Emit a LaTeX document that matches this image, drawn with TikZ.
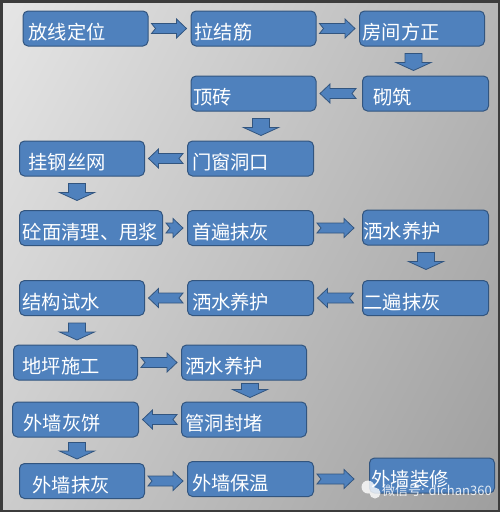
\documentclass[tikz,border=0pt]{standalone}
\usepackage{fontspec}
\newfontfamily\cjk{Noto Sans CJK SC}
\usetikzlibrary{calc,shadings}

\definecolor{boxfill}{HTML}{4F81BD}
\definecolor{boxline}{HTML}{32557F}
\definecolor{bgul}{HTML}{E6E6E6}
\definecolor{bgur}{HTML}{B6B6B6}
\definecolor{bgll}{HTML}{CCCCCC}
\definecolor{bglr}{HTML}{9E9E9E}
\definecolor{frame}{HTML}{3C3C3C}

% notched arrow pointing right, from #1 to #2
\newcommand{\rarrow}[2]{%
  \draw[blockarrow] let \p1=(#1.east), \p2=(#2.west),
      \p3=({min(\x1+40pt,\x2-4pt)},\y1) in
    (\x1+3pt,\y1-5pt) -- (\x3-10pt,\y1-5pt) -- (\x3-10pt,\y1-9.5pt) -- (\p3)
    -- (\x3-10pt,\y1+9.5pt) -- (\x3-10pt,\y1+5pt) -- (\x1+3pt,\y1+5pt)
    -- (\x1+7pt,\y1) -- cycle;}
% notched arrow pointing left, from #1 to #2
\newcommand{\larrow}[2]{%
  \draw[blockarrow] let \p1=(#1.west), \p2=(#2.east),
      \p3=({\x2+3.5pt},\y1), \p4=({min(\x3+36pt,\x1-4pt)},\y1) in
    (\x4,\y1-5pt) -- (\x3+10pt,\y1-5pt) -- (\x3+10pt,\y1-9.5pt) -- (\p3)
    -- (\x3+10pt,\y1+9.5pt) -- (\x3+10pt,\y1+5pt) -- (\x4,\y1+5pt)
    -- (\x4-4pt,\y1) -- cycle;}
% arrow pointing down, from #2 to #3, at x = #4
\newcommand{\dnarrow}[4][7]{%
  \draw[blockarrow] let \p1=(#2.south), \p2=(#3.north), \p3=(#4,0),
      \p4=(\x3,{\y1-#1pt}), \p5=(\x3,{max(\y4-17pt,\y2+4pt)}) in
    (\x4-8.5pt,\y4) -- (\x4+8.5pt,\y4) -- (\x4+8.5pt,\y5+8pt)
    -- (\x4+17.5pt,\y5+8pt) -- (\p5) -- (\x4-17.5pt,\y5+8pt)
    -- (\x4-8.5pt,\y5+8pt) -- cycle;}

\begin{document}
\begin{tikzpicture}[x=1pt, y=-1pt,
    procbox/.style={draw=boxline, fill=boxfill, line width=1pt, rounded corners=5pt,
      text=white, font=\cjk\fontsize{19.3}{22}\selectfont, anchor=west,
      inner xsep=0pt, inner ysep=0pt, minimum height=35pt, text width=125pt,
      align=left, text height=24pt, text depth=1.4pt},
    blockarrow/.style={draw=boxline, fill=boxfill, line width=0.8pt, line join=miter}]
    \useasboundingbox (0,0) rectangle (500,512);

    % Background
    \shade[upper left=bgul, upper right=bgur, lower left=bgll, lower right=bglr]
      (0,0) rectangle (500,512);
    \draw[line width=2.5pt, draw=frame] (1.25,1.25) rectangle (498.75,510.75);

    % Row 1
    \node[procbox] (fangxian) at (22.5,28.5) {\hspace*{5.5pt}放线定位};
    \node[procbox] (lajie) at (190.5,28.5) {\hspace*{3.5pt}拉结筋};
    \node[procbox] (fangjian) at (359,28.5) {\hspace*{3pt}房间方正};

    % Row 2
    \node[procbox, text width=126pt] (qizhu) at (362,93.5) {\hspace*{11pt}砌筑};
    \node[procbox] (dingzhuan) at (190.5,93.5) {\hspace*{2.5pt}顶砖};

    % Row 3
    \node[procbox, text width=126pt] (menchuang) at (187,158.5) {\hspace*{4.5pt}门窗洞口};
    \node[procbox] (guagang) at (19,158.5) {\hspace*{9pt}挂钢丝网};

    % Row 4
    \node[procbox, text width=143pt] (tongmian) at (19,228) {\hspace*{3.5pt}砼面清理、甩浆};
    \node[procbox, text width=126pt] (shoubian) at (187,228) {\hspace*{4.5pt}首遍抹灰};
    \node[procbox, text width=126pt] (sashuiA) at (362,227.5) {\hspace*{1pt}洒水养护};

    % Row 5
    \node[procbox, text width=126pt] (erbian) at (362,298) {\hspace*{1pt}二遍抹灰};
    \node[procbox, text width=126pt] (sashuiB) at (187,298) {\hspace*{4.5pt}洒水养护};
    \node[procbox] (jiegou) at (19,298) {\hspace*{3pt}结构试水};

    % Row 6
    \node[procbox, text width=124pt] (diping) at (13,362.5) {\hspace*{9pt}地坪施工};
    \node[procbox] (sashuiC) at (181,362.5) {\hspace*{4pt}洒水养护};

    % Row 7
    \node[procbox] (guandong) at (181,419.5) {\hspace*{4pt}管洞封堵};
    \node[procbox, text width=126pt] (huibing) at (12,419.5) {\hspace*{11pt}外墙灰饼};

    % Row 8
    \node[procbox] (mohui) at (19,481) {\hspace*{13pt}外墙抹灰};
    \node[procbox, text width=126pt] (baowen) at (187,479) {\hspace*{4.5pt}外墙保温};
    \node[procbox] (zhuangxiu) at (369,475.5) {\hspace*{2pt}外墙装修};

    % Flow arrows
    \rarrow{fangxian}{lajie}
    \rarrow{lajie}{fangjian}
    \dnarrow{fangjian}{qizhu}{413.5}
    \larrow{qizhu}{dingzhuan}
    \dnarrow{dingzhuan}{menchuang}{261}
    \larrow{menchuang}{guagang}
    \dnarrow{guagang}{tongmian}{77}
    \rarrow{tongmian}{shoubian}
    \rarrow{shoubian}{sashuiA}
    \dnarrow{sashuiA}{erbian}{426}
    \larrow{erbian}{sashuiB}
    \larrow{sashuiB}{jiegou}
    \dnarrow{jiegou}{diping}{77}
    \rarrow{diping}{sashuiC}
    \dnarrow[3]{sashuiC}{guandong}{250}
    \larrow{guandong}{huibing}
    \dnarrow[5]{huibing}{mohui}{77}
    \rarrow{mohui}{baowen}
    \rarrow{baowen}{zhuangxiu}

    % Watermark
    \fill[white, opacity=0.8] (368,487) circle (6.5) (375,493) circle (5.5);
    \node[anchor=west, inner sep=0pt, text=white, text opacity=0.85,
      font=\cjk\fontsize{13}{15}\selectfont] (watermark) at (382,491) {微信号: dichan360};
\end{tikzpicture}
\end{document}
